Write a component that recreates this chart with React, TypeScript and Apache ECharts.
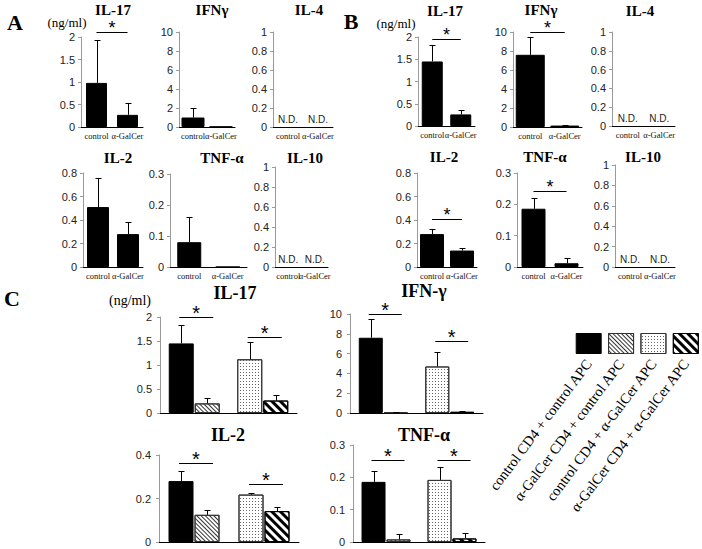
import React, { useEffect, useRef } from "react";
import * as echarts from "echarts";

// ---------------- data ----------------
const abCategories = ["control", "α-GalCer"];
const ndLabels = ["N.D.", "N.D."];
const ndValues = [0, 0];

// Panel A
const aIL17Mean = [0.98, 0.27];
const aIL17Err = [0.95, 0.27];
const aIL17Sig = [2.11];
const aIFNgMean = [1.0, 0.03];
const aIFNgErr = [1.0, 0.02];
const aIL2Mean = [0.51, 0.28];
const aIL2Err = [0.25, 0.1];
const aTNFMean = [0.08, 0];
const aTNFErr = [0.082, 0];

// Panel B
const bIL17Mean = [1.45, 0.26];
const bIL17Err = [0.38, 0.11];
const bIL17Sig = [1.95];
const bIFNgMean = [7.6, 0.15];
const bIFNgErr = [1.9, 0.07];
const bIFNgSig = [10.0];
const bIL2Mean = [0.28, 0.14];
const bIL2Err = [0.045, 0.02];
const bIL2Sig = [0.41];
const bTNFMean = [0.186, 0.012];
const bTNFErr = [0.034, 0.016];
const bTNFSig = [0.243];

// Panel C  (groups = APC type, series = CD4 type)
const cGroups = ["control APC", "α-GalCer APC"];
const cIL17CtrlCD4 = [1.45, 1.12];
const cIL17CtrlCD4Err = [0.39, 0.35];
const cIL17GalCD4 = [0.2, 0.26];
const cIL17GalCD4Err = [0.12, 0.11];
const cIL17Sig = [2.0, 1.58];
const cIFNgCtrlCD4 = [7.6, 4.7];
const cIFNgCtrlCD4Err = [1.9, 1.5];
const cIFNgGalCD4 = [0.08, 0.12];
const cIFNgGalCD4Err = [0.04, 0.06];
const cIFNgSig = [10.0, 7.27];
const cIL2CtrlCD4 = [0.28, 0.218];
const cIL2CtrlCD4Err = [0.048, 0.008];
const cIL2GalCD4 = [0.125, 0.142];
const cIL2GalCD4Err = [0.022, 0.021];
const cIL2Sig = [0.363, 0.267];
const cTNFCtrlCD4 = [0.186, 0.192];
const cTNFCtrlCD4Err = [0.034, 0.041];
const cTNFGalCD4 = [0.008, 0.011];
const cTNFGalCD4Err = [0.016, 0.016];
const cTNFSig = [0.254, 0.254];

const legendLabels = [
  "control CD4 + control APC",
  "α-GalCer CD4 + control APC",
  "control CD4 + α-GalCer APC",
  "α-GalCer CD4 + α-GalCer APC",
];
const legendValues = [1, 1, 1, 1];

// ---------------- styles ----------------
const SERIF = '"Liberation Serif", "Times New Roman", serif';
const SANS = '"Liberation Sans", Arial, sans-serif';

const solidStyle = { color: "#000", borderColor: "#000", borderWidth: 1 };
const fineStyle = {
  color: "#fff",
  borderColor: "#333",
  borderWidth: 1,
  decal: {
    symbol: "rect",
    symbolSize: 1,
    color: "#333",
    dashArrayX: [1, 0],
    dashArrayY: [1, 1.2],
    rotation: Math.PI / 4,
  },
};
const dotStyle = {
  color: "#fff",
  borderColor: "#333",
  borderWidth: 1,
  decal: {
    symbol: "rect",
    symbolSize: 1,
    color: "#666",
    dashArrayX: [1, 2],
    dashArrayY: [1, 2],
    rotation: 0,
  },
};
const stripeStyle = {
  color: "#fff",
  borderColor: "#000",
  borderWidth: 1,
  decal: {
    symbol: "rect",
    symbolSize: 1,
    color: "#000",
    dashArrayX: [1, 0],
    dashArrayY: [3, 3],
    rotation: Math.PI / 4,
  },
};

// ---------------- layout ----------------
type ABPanel = {
  title: string;
  tx: number;
  ty: number;
  box: [number, number, number, number];
  max: number;
  interval: number;
  bw?: number;
  mean?: number[];
  err?: number[];
  sig?: number[];
  nd?: boolean;
};

const abPanels: ABPanel[] = [
  { title: "IL-17", tx: 113, ty: 10, box: [81, 37, 62, 90], max: 2, interval: 0.5, bw: 21, mean: aIL17Mean, err: aIL17Err, sig: aIL17Sig },
  { title: "IFNγ", tx: 212, ty: 10, box: [179, 32, 56, 95], max: 10, interval: 2, bw: 23, mean: aIFNgMean, err: aIFNgErr },
  { title: "IL-4", tx: 309, ty: 10, box: [273, 32, 60, 95], max: 1, interval: 0.2, nd: true },
  { title: "IL-2", tx: 118, ty: 158, box: [83, 173, 60, 94], max: 0.8, interval: 0.2, bw: 22, mean: aIL2Mean, err: aIL2Err },
  { title: "TNF-α", tx: 222, ty: 158, box: [170, 174, 77, 93], max: 0.3, interval: 0.1, bw: 24, mean: aTNFMean, err: aTNFErr },
  { title: "IL-10", tx: 305, ty: 158, box: [275, 167, 53, 100], max: 1, interval: 0.2, nd: true },

  { title: "IL-17", tx: 445, ty: 11, box: [418, 37, 57, 89], max: 2, interval: 0.5, bw: 21, mean: bIL17Mean, err: bIL17Err, sig: bIL17Sig },
  { title: "IFNγ", tx: 541, ty: 10, box: [513, 32, 69, 95], max: 10, interval: 2, bw: 29, mean: bIFNgMean, err: bIFNgErr, sig: bIFNgSig },
  { title: "IL-4", tx: 640, ty: 11, box: [612, 32, 63, 94], max: 1, interval: 0.2, nd: true },
  { title: "IL-2", tx: 444, ty: 157, box: [417, 173, 60, 94], max: 0.8, interval: 0.2, bw: 24, mean: bIL2Mean, err: bIL2Err, sig: bIL2Sig },
  { title: "TNF-α", tx: 545, ty: 157, box: [517, 173, 66, 94], max: 0.3, interval: 0.1, bw: 24, mean: bTNFMean, err: bTNFErr, sig: bTNFSig },
  { title: "IL-10", tx: 643, ty: 157, box: [615, 165, 60, 102], max: 1, interval: 0.2, nd: true },
];

type CPanel = {
  title: string;
  tx: number;
  ty: number;
  box: [number, number, number, number];
  max: number;
  interval: number;
  bw: number;
  ctrl: number[];
  ctrlErr: number[];
  gal: number[];
  galErr: number[];
  sig: number[];
};

const cPanels: CPanel[] = [
  { title: "IL-17", tx: 235, ty: 293, box: [160, 317, 137, 96], max: 2, interval: 0.5, bw: 25, ctrl: cIL17CtrlCD4, ctrlErr: cIL17CtrlCD4Err, gal: cIL17GalCD4, galErr: cIL17GalCD4Err, sig: cIL17Sig },
  { title: "IFN-γ", tx: 424, ty: 291, box: [350, 314, 133, 99], max: 10, interval: 2, bw: 24, ctrl: cIFNgCtrlCD4, ctrlErr: cIFNgCtrlCD4Err, gal: cIFNgGalCD4, galErr: cIFNgGalCD4Err, sig: cIFNgSig },
  { title: "IL-2", tx: 228, ty: 435, box: [159, 455, 140, 87], max: 0.4, interval: 0.2, bw: 25, ctrl: cIL2CtrlCD4, ctrlErr: cIL2CtrlCD4Err, gal: cIL2GalCD4, galErr: cIL2GalCD4Err, sig: cIL2Sig },
  { title: "TNF-α", tx: 424, ty: 435, box: [353, 445, 132, 97], max: 0.3, interval: 0.1, bw: 24, ctrl: cTNFCtrlCD4, ctrlErr: cTNFCtrlCD4Err, gal: cTNFGalCD4, galErr: cTNFGalCD4Err, sig: cTNFSig },
];

// ---------------- renderers ----------------
function errorBar(x: number, yBase: number, yTop: number) {
  return [
    { type: "line", shape: { x1: x, y1: yBase, x2: x, y2: yTop }, style: { stroke: "#000", lineWidth: 1 } },
    { type: "line", shape: { x1: x - 3, y1: yTop, x2: x + 3, y2: yTop }, style: { stroke: "#000", lineWidth: 1 } },
  ];
}

function makeErrRender(offset: number) {
  return (params: any, api: any) => {
    const i = api.value(0);
    const m = api.value(1);
    const e = api.value(2);
    const slot = api.value(3);
    if (!e) return { type: "group", children: [] };
    const p0 = api.coord([i, m]);
    const p1 = api.coord([i, m + e]);
    const dx = slot === 0 ? -offset : slot === 1 ? offset : 0;
    return { type: "group", children: errorBar(Math.round(p0[0] + dx) + 0.5, p0[1], Math.round(p1[1]) + 0.5) };
  };
}

function starText(x: number, y: number, size: number) {
  return {
    type: "text",
    x,
    y: y - size * 0.75,
    style: { text: "*", font: `${size}px ${SANS}`, textAlign: "center", textVerticalAlign: "top", fill: "#000" },
  };
}

const sigABRender = (params: any, api: any) => {
  const y = api.value(1);
  const a = api.coord([0, y]);
  const b = api.coord([1, y]);
  const yy = Math.round(a[1]) + 0.5;
  return {
    type: "group",
    children: [
      { type: "line", shape: { x1: a[0], y1: yy, x2: b[0], y2: yy }, style: { stroke: "#000", lineWidth: 1 } },
      starText((a[0] + b[0]) / 2, yy, 18),
    ],
  };
};

function makeSigCRender(offset: number) {
  return (params: any, api: any) => {
    const g = api.value(0);
    const y = api.value(1);
    const c = api.coord([g, y]);
    const yy = Math.round(c[1]) + 0.5;
    const x1 = c[0] - offset - 2;
    const x2 = c[0] + offset + 6;
    return {
      type: "group",
      children: [
        { type: "line", shape: { x1, y1: yy, x2, y2: yy }, style: { stroke: "#000", lineWidth: 1 } },
        starText((x1 + x2) / 2, yy, 20),
      ],
    };
  };
}

// ---------------- option builder ----------------
function buildOption() {
  const grids: any[] = [];
  const xAxes: any[] = [];
  const yAxes: any[] = [];
  const series: any[] = [];
  const graphics: any[] = [];

  const yAxisBase = (gi: number, max: number, interval: number, margin: number, fontSize: number) => ({
    type: "value",
    gridIndex: gi,
    min: 0,
    max,
    interval,
    axisLine: { show: true, lineStyle: { color: "#9a9a9a", width: 1 } },
    axisTick: { show: true, length: 3, lineStyle: { color: "#9a9a9a" } },
    splitLine: { show: false },
    axisLabel: {
      fontFamily: SANS,
      fontSize,
      color: "#222",
      margin,
      formatter: (v: number) => String(Math.round(v * 1000) / 1000),
    },
  });

  abPanels.forEach((p) => {
    const gi = grids.length;
    grids.push({ left: p.box[0], top: p.box[1], width: p.box[2], height: p.box[3] });
    xAxes.push({
      type: "category",
      gridIndex: gi,
      data: abCategories,
      axisLine: { show: true, lineStyle: { color: "#000", width: 1 } },
      axisTick: { show: false },
      axisLabel: { interval: 0, fontFamily: SERIF, fontSize: 8.5, color: "#111", margin: 4 },
    });
    yAxes.push(yAxisBase(gi, p.max, p.interval, 6, 11));
    graphics.push({
      type: "text",
      x: p.tx,
      y: p.ty,
      style: { text: p.title, font: `bold 15px ${SERIF}`, textAlign: "center", textVerticalAlign: "middle", fill: "#000" },
    });
    if (p.nd) {
      series.push({
        type: "bar",
        xAxisIndex: gi,
        yAxisIndex: gi,
        data: ndValues,
        barWidth: 2,
        itemStyle: { color: "rgba(0,0,0,0)" },
        label: {
          show: true,
          position: "top",
          distance: 3,
          formatter: (d: any) => ndLabels[d.dataIndex],
          fontFamily: SANS,
          fontSize: 10,
          color: "#222",
        },
      });
    } else {
      series.push({
        type: "bar",
        xAxisIndex: gi,
        yAxisIndex: gi,
        data: p.mean,
        barWidth: p.bw,
        itemStyle: solidStyle,
      });
      series.push({
        type: "custom",
        xAxisIndex: gi,
        yAxisIndex: gi,
        renderItem: makeErrRender(0),
        data: (p.mean as number[]).map((m, i) => [i, m, (p.err as number[])[i], -1]),
        z: 3,
      });
      if (p.sig) {
        series.push({
          type: "custom",
          xAxisIndex: gi,
          yAxisIndex: gi,
          renderItem: sigABRender,
          data: p.sig.map((v) => [0, v]),
          z: 4,
        });
      }
    }
  });

  cPanels.forEach((p) => {
    const gi = grids.length;
    grids.push({ left: p.box[0], top: p.box[1], width: p.box[2], height: p.box[3] });
    xAxes.push({
      type: "category",
      gridIndex: gi,
      data: cGroups,
      axisLine: { show: true, lineStyle: { color: "#000", width: 1 } },
      axisTick: { show: false },
      axisLabel: { show: false },
    });
    yAxes.push(yAxisBase(gi, p.max, p.interval, 8, 11));
    graphics.push({
      type: "text",
      x: p.tx,
      y: p.ty,
      style: { text: p.title, font: `bold 18px ${SERIF}`, textAlign: "center", textVerticalAlign: "middle", fill: "#000" },
    });
    const off = p.bw / 2 + 0.5;
    series.push({
      type: "bar",
      xAxisIndex: gi,
      yAxisIndex: gi,
      barWidth: p.bw,
      barGap: "4%",
      data: p.ctrl.map((v, i) => ({ value: v, itemStyle: i === 0 ? solidStyle : dotStyle })),
    });
    series.push({
      type: "bar",
      xAxisIndex: gi,
      yAxisIndex: gi,
      barWidth: p.bw,
      barGap: "4%",
      data: p.gal.map((v, i) => ({ value: v, itemStyle: i === 0 ? fineStyle : stripeStyle })),
    });
    series.push({
      type: "custom",
      xAxisIndex: gi,
      yAxisIndex: gi,
      renderItem: makeErrRender(off),
      data: [
        ...p.ctrl.map((m, i) => [i, m, p.ctrlErr[i], 0]),
        ...p.gal.map((m, i) => [i, m, p.galErr[i], 1]),
      ],
      z: 3,
    });
    series.push({
      type: "custom",
      xAxisIndex: gi,
      yAxisIndex: gi,
      renderItem: makeSigCRender(off),
      data: p.sig.map((v, i) => [i, v]),
      z: 4,
    });
  });

  // legend grid (boxes + rotated labels)
  {
    const gi = grids.length;
    grids.push({ left: 572.5, top: 333, width: 130, height: 21 });
    xAxes.push({
      type: "category",
      gridIndex: gi,
      data: legendLabels,
      axisLine: { show: false },
      axisTick: { show: false },
      axisLabel: { interval: 0, rotate: 53, fontFamily: SERIF, fontSize: 14.5, color: "#000", margin: 7 },
    });
    yAxes.push({ type: "value", gridIndex: gi, min: 0, max: 1, show: false });
    const styles = [solidStyle, fineStyle, dotStyle, stripeStyle];
    series.push({
      type: "bar",
      xAxisIndex: gi,
      yAxisIndex: gi,
      barWidth: 26,
      data: legendValues.map((v, i) => ({ value: v, itemStyle: styles[i] })),
    });
  }

  // panel letters and units
  const letter = (t: string, x: number, y: number) => ({
    type: "text",
    x,
    y,
    style: { text: t, font: `bold 22px ${SERIF}`, textAlign: "center", textVerticalAlign: "middle", fill: "#000" },
  });
  const unit = (x: number, y: number, size: number) => ({
    type: "text",
    x,
    y,
    style: { text: "(ng/ml)", font: `${size}px ${SERIF}`, textAlign: "center", textVerticalAlign: "middle", fill: "#000" },
  });
  graphics.push(letter("A", 15, 22), letter("B", 351, 21), letter("C", 12, 298));
  graphics.push(unit(67, 22, 13), unit(396, 23, 13), unit(130, 300, 14));

  return {
    animation: false,
    backgroundColor: "#fff",
    grid: grids,
    xAxis: xAxes,
    yAxis: yAxes,
    series,
    graphic: graphics,
  };
}

export default function App() {
  const ref = useRef<HTMLDivElement>(null);
  useEffect(() => {
    if (!ref.current) return;
    const chart = echarts.init(ref.current, undefined, { renderer: "svg" });
    chart.setOption(buildOption() as any);
    return () => chart.dispose();
  }, []);
  return <div ref={ref} style={{ position: "fixed", left: 0, top: 0, width: 702, height: 549 }} />;
}
